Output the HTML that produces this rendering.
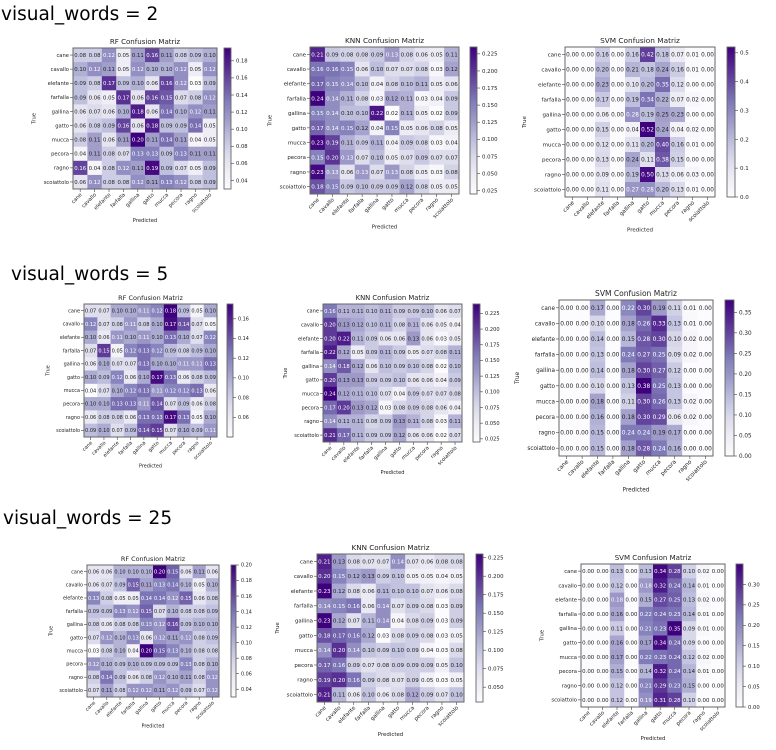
<!DOCTYPE html>
<html><head><meta charset="utf-8">
<style>
html,body{margin:0;padding:0;background:#fff;width:776px;height:750px;overflow:hidden}
svg text{font-family:"DejaVu Sans","Liberation Sans",sans-serif}
.h{font-family:"DejaVu Sans","Liberation Sans",sans-serif;font-size:18.5px;fill:#000}
</style></head><body>
<svg id="s" width="776" height="750" xmlns="http://www.w3.org/2000/svg">
<text class="h" x="1" y="20">visual_words = 2</text>
<text class="h" x="11" y="280">visual_words = 5</text>
<text class="h" x="3" y="524">visual_words = 25</text>
</svg>
<script>
const labels=["cane","cavallo","elefante","farfalla","gallina","gatto","mucca","pecora","ragno","scoiattolo"];
function P(s){return s.trim().split(/\n/).map(r=>r.trim().split(/\s+/).map(Number));}
const panels=[
{t:"RF Confusion Matriz",x:73,y:48,w:144,h:141,cx:224,cw:7,ticks:[.04,.06,.08,.10,.12,.14,.16,.18],d:2,vmin:.03,vmax:.195,m:P(`
.08 .08 .12 .05 .11 .16 .11 .08 .09 .10
.10 .12 .11 .05 .12 .10 .10 .12 .05 .12
.09 .08 .17 .09 .10 .06 .16 .12 .03 .09
.09 .06 .05 .17 .06 .16 .15 .07 .08 .12
.06 .07 .06 .10 .18 .06 .14 .10 .12 .11
.06 .08 .09 .16 .06 .18 .09 .09 .14 .05
.08 .11 .06 .11 .20 .11 .14 .11 .04 .05
.04 .11 .08 .07 .13 .13 .09 .13 .11 .11
.16 .04 .08 .12 .11 .19 .09 .07 .05 .09
.06 .12 .08 .08 .12 .11 .13 .12 .08 .09`)},
{t:"KNN Confusion Matriz",x:310,y:47,w:149,h:147,cx:470,cw:7,ticks:[.025,.05,.075,.1,.125,.15,.175,.2,.225],d:3,vmin:.02,vmax:.235,m:P(`
.21 .09 .08 .08 .09 .13 .08 .06 .05 .11
.16 .16 .15 .06 .10 .07 .07 .08 .03 .12
.17 .15 .14 .10 .04 .08 .10 .11 .05 .06
.24 .14 .11 .08 .03 .12 .11 .03 .04 .09
.15 .14 .10 .10 .22 .02 .11 .05 .02 .09
.17 .14 .15 .12 .04 .15 .05 .06 .08 .05
.23 .19 .11 .09 .11 .04 .09 .08 .03 .04
.15 .20 .13 .07 .10 .05 .07 .09 .07 .07
.23 .13 .06 .13 .07 .13 .08 .05 .03 .08
.18 .15 .09 .10 .09 .09 .12 .08 .05 .05`)},
{t:"SVM Confusion Matriz",x:565,y:47,w:150,h:150,cx:727,cw:8,ticks:[0,.1,.2,.3,.4,.5],d:1,vmin:0,vmax:.52,m:P(`
0 0 .16 0 .16 .42 .18 .07 .01 0
0 0 .20 0 .21 .18 .24 .16 .01 0
0 0 .23 0 .10 .20 .35 .12 0 0
0 0 .17 0 .19 .34 .22 .07 .02 0
0 0 .06 0 .28 .19 .25 .23 0 0
0 0 .15 0 .04 .52 .24 .04 .02 0
0 0 .12 0 .11 .20 .40 .16 .01 0
0 0 .13 0 .24 .11 .38 .15 0 0
0 0 .09 0 .19 .50 .13 .06 .03 0
0 0 .11 0 .27 .28 .20 .13 .01 0`)},
{t:"RF Confusion Matriz",x:84,y:304,w:133,h:133,cx:227,cw:6,ticks:[.06,.08,.10,.12,.14,.16],d:2,vmin:.04,vmax:.175,m:P(`
.07 .07 .10 .10 .11 .12 .18 .09 .05 .10
.12 .07 .08 .11 .08 .10 .17 .14 .07 .05
.10 .06 .11 .10 .11 .10 .13 .10 .07 .12
.07 .15 .05 .12 .13 .12 .09 .08 .09 .10
.06 .10 .07 .07 .13 .10 .10 .11 .11 .13
.10 .09 .12 .06 .10 .17 .13 .06 .08 .09
.04 .07 .10 .12 .13 .11 .12 .12 .13 .06
.10 .10 .13 .13 .11 .14 .07 .09 .06 .08
.06 .08 .08 .06 .13 .13 .17 .13 .05 .10
.09 .10 .07 .09 .14 .15 .07 .10 .09 .11`)},
{t:"KNN Confusion Matriz",x:323,y:304,w:139,h:138,cx:473,cw:7,ticks:[.025,.05,.075,.1,.125,.15,.175,.2,.225],d:3,vmin:.02,vmax:.24,m:P(`
.16 .11 .11 .10 .11 .09 .09 .10 .06 .07
.20 .13 .12 .10 .11 .08 .11 .06 .05 .04
.20 .22 .11 .09 .06 .06 .13 .06 .03 .05
.22 .12 .05 .09 .11 .09 .05 .07 .08 .11
.14 .18 .12 .06 .10 .09 .10 .08 .02 .10
.20 .13 .13 .09 .09 .10 .06 .06 .04 .09
.24 .12 .11 .10 .07 .04 .09 .07 .07 .08
.17 .20 .13 .12 .03 .08 .09 .08 .06 .04
.14 .11 .11 .08 .09 .13 .11 .08 .03 .11
.21 .17 .11 .09 .09 .12 .06 .06 .02 .07`)},
{t:"SVM Confusion Matriz",x:559,y:300,w:154,h:156,cx:725,cw:9,ticks:[0,.05,.1,.15,.2,.25,.3,.35],d:2,vmin:0,vmax:.38,m:P(`
0 0 .17 0 .22 .30 .19 .11 .01 0
0 0 .10 0 .18 .26 .33 .13 .01 0
0 0 .14 0 .15 .28 .30 .10 .02 0
0 0 .13 0 .24 .27 .25 .09 .02 0
0 0 .14 0 .18 .30 .27 .12 0 0
0 0 .10 0 .13 .38 .25 .13 0 0
0 0 .18 0 .11 .30 .26 .13 .02 0
0 0 .16 0 .18 .30 .29 .06 .02 0
0 0 .15 0 .24 .24 .19 .17 0 0
0 0 .15 0 .18 .28 .24 .16 0 0`)},
{t:"RF Confusion Matriz",x:87,y:565,w:132,h:132,cx:231,cw:5,ticks:[.04,.06,.08,.10,.12,.14,.16,.18,.20],d:2,vmin:.03,vmax:.20,m:P(`
.06 .06 .10 .10 .10 .20 .15 .06 .11 .06
.06 .07 .09 .15 .11 .13 .14 .10 .05 .10
.13 .08 .05 .05 .14 .14 .12 .15 .06 .08
.09 .09 .13 .12 .15 .07 .10 .08 .08 .09
.08 .06 .08 .08 .13 .12 .16 .09 .10 .10
.07 .12 .10 .13 .06 .12 .11 .12 .08 .09
.03 .08 .10 .04 .20 .15 .13 .10 .08 .08
.12 .10 .09 .10 .09 .09 .09 .13 .08 .10
.08 .14 .09 .06 .08 .12 .10 .11 .08 .12
.07 .11 .08 .12 .12 .11 .12 .09 .07 .12`)},
{t:"KNN Confusion Matriz",x:317,y:554,w:147,h:148,cx:476,cw:7,ticks:[.05,.075,.1,.125,.15,.175,.2,.225],d:3,vmin:.03,vmax:.23,m:P(`
.21 .13 .08 .07 .07 .14 .07 .06 .08 .08
.20 .15 .12 .13 .09 .10 .05 .05 .04 .05
.23 .12 .08 .06 .11 .10 .10 .07 .06 .08
.14 .15 .16 .06 .14 .07 .09 .08 .03 .09
.23 .12 .07 .11 .14 .04 .08 .09 .03 .09
.18 .17 .16 .12 .03 .08 .09 .08 .03 .05
.14 .20 .14 .10 .09 .10 .09 .04 .03 .08
.17 .16 .09 .07 .08 .09 .09 .09 .05 .10
.19 .20 .16 .09 .08 .07 .09 .05 .03 .05
.21 .11 .06 .10 .06 .08 .12 .09 .07 .10`)},
{t:"SVM Confusion Matriz",x:581,y:564,w:144,h:143,cx:736,cw:7,ticks:[0,.05,.1,.15,.2,.25,.3],d:2,vmin:0,vmax:.35,m:P(`
0 0 .13 0 .13 .34 .28 .10 .02 0
0 0 .12 0 .18 .32 .24 .14 .01 0
0 0 .18 0 .15 .27 .25 .13 .02 0
0 0 .16 0 .22 .24 .23 .14 .01 0
0 0 .11 0 .21 .23 .35 .09 .01 0
0 0 .16 0 .17 .34 .24 .09 0 0
0 0 .17 0 .22 .23 .24 .12 .02 0
0 0 .15 0 .14 .32 .24 .14 .01 0
0 0 .12 0 .21 .29 .23 .15 0 0
0 0 .12 0 .19 .31 .28 .10 0 0`)}
];
const stops=["#fcfbfd","#efedf5","#dadaeb","#bcbddc","#9e9ac8","#807dba","#6a51a3","#54278f","#3f007d"].map(h=>[1,3,5].map(i=>parseInt(h.substr(i,2),16)));
function col(t){t=Math.max(0,Math.min(1,t))*8;const i=Math.min(7,Math.floor(t)),f=t-i;const a=stops[i],b=stops[i+1];return "rgb("+a.map((v,k)=>Math.round(v+(b[k]-v)*f)).join(",")+")";}
let o="";
for(const p of panels){
 const cw=p.w/10,ch=p.h/10,fs=Math.min(cw,ch)*0.38,tf=Math.min(cw,ch)*0.37;
 const thr=(p.vmin+p.vmax)/2;
 o+=`<text x="${p.x+p.w/2}" y="${p.y-4}" font-size="${cw*0.49}" text-anchor="middle" fill="#222">${p.t}</text>`;
 for(let r=0;r<10;r++)for(let c=0;c<10;c++){
  const v=p.m[r][c],x=p.x+c*cw,y=p.y+r*ch;
  o+=`<rect x="${x}" y="${y}" width="${cw+0.5}" height="${ch+0.5}" fill="${col((v-p.vmin)/(p.vmax-p.vmin))}"/>`;
  o+=`<text x="${x+cw/2}" y="${y+ch/2+fs*0.36}" font-size="${fs}" text-anchor="middle" fill="${v>thr?'#fff':'#222'}">${v.toFixed(2)}</text>`;
 }
 o+=`<rect x="${p.x}" y="${p.y}" width="${p.w}" height="${p.h}" fill="none" stroke="#666" stroke-width="1"/>`;
 for(let i=0;i<10;i++){
  const yy=p.y+(i+.5)*ch, xx=p.x+(i+.5)*cw;
  o+=`<line x1="${p.x-3}" x2="${p.x}" y1="${yy}" y2="${yy}" stroke="#444" stroke-width=".6"/>`;
  o+=`<text x="${p.x-4}" y="${yy+tf*0.35}" font-size="${tf}" text-anchor="end" fill="#222">${labels[i]}</text>`;
  o+=`<line x1="${xx}" x2="${xx}" y1="${p.y+p.h}" y2="${p.y+p.h+3}" stroke="#444" stroke-width=".6"/>`;
  o+=`<text transform="translate(${xx+2},${p.y+p.h+6}) rotate(-45)" font-size="${tf}" text-anchor="end" fill="#222">${labels[i]}</text>`;
 }
 o+=`<text x="${p.x+p.w/2}" y="${p.y+p.h+cw*2.3}" font-size="${tf}" text-anchor="middle" fill="#222">Predicted</text>`;
 o+=`<text transform="translate(${p.x-cw*2.6},${p.y+p.h/2}) rotate(-90)" font-size="${tf}" text-anchor="middle" fill="#222">True</text>`;
 const gid="g"+Math.round(p.x)+"_"+Math.round(p.y);
 o+=`<defs><linearGradient id="${gid}" x1="0" y1="1" x2="0" y2="0">${stops.map((s,i)=>`<stop offset="${i/8}" stop-color="rgb(${s.join(',')})"/>`).join('')}</linearGradient></defs>`;
 o+=`<rect x="${p.cx}" y="${p.y}" width="${p.cw}" height="${p.h}" fill="url(#${gid})" stroke="#666" stroke-width=".9"/>`;
 for(const t of p.ticks){
  const yy=p.y+p.h-(t-p.vmin)/(p.vmax-p.vmin)*p.h;
  o+=`<line x1="${p.cx+p.cw}" x2="${p.cx+p.cw+3}" y1="${yy}" y2="${yy}" stroke="#444" stroke-width=".6"/>`;
  o+=`<text x="${p.cx+p.cw+5}" y="${yy+tf*0.35}" font-size="${tf}" fill="#222">${t.toFixed(p.d)}</text>`;
 }
}
document.getElementById("s").insertAdjacentHTML("beforeend",o);
</script>
</body></html>
